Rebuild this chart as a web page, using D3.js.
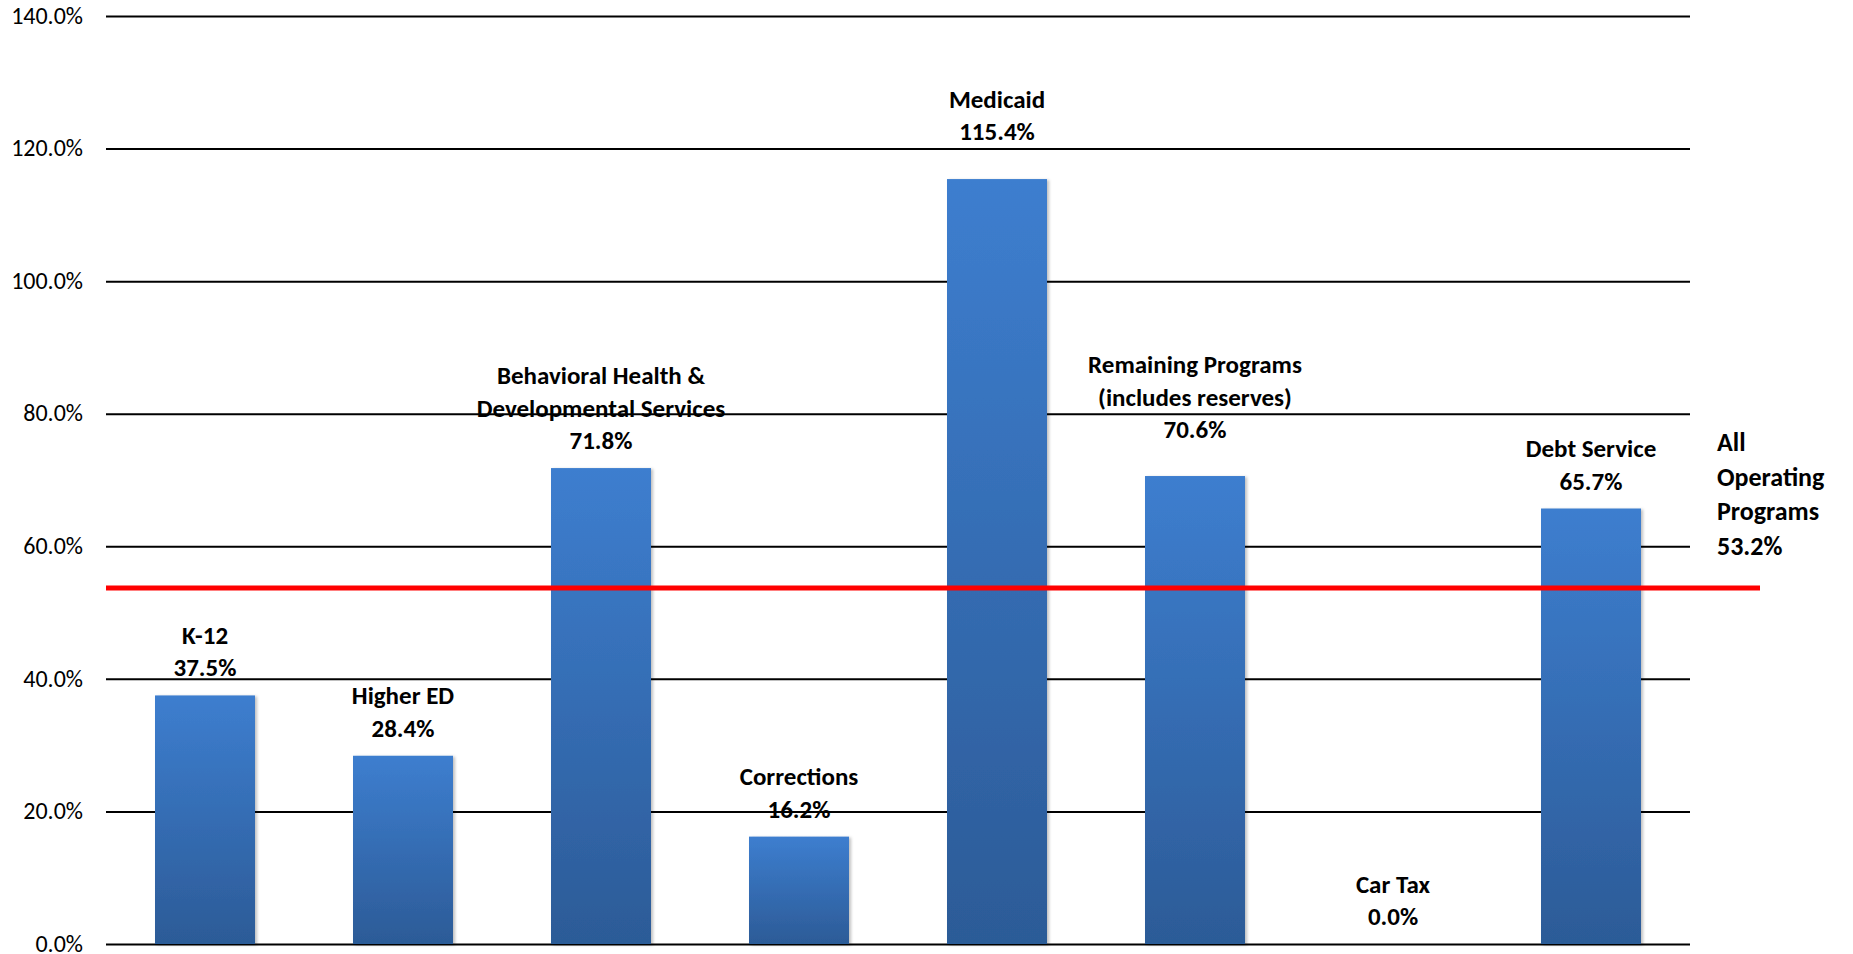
<!DOCTYPE html>
<html>
<head>
<meta charset="utf-8">
<script src="https://cdn.jsdelivr.net/npm/d3@7"></script>
<style>
  html, body { margin: 0; padding: 0; background: #fff; }
  #chart { width: 1853px; height: 954px; }
  text { font-family: Carlito, Lato, "Open Sans", sans-serif; fill: #000; }
</style>
</head>
<body>
<div id="chart"></div>
<script>
// ---- data ----
const categories = ['K-12', 'Higher ED', 'Behavioral Health & Developmental Services', 'Corrections',
  'Medicaid', 'Remaining Programs (includes reserves)', 'Car Tax', 'Debt Service'];
const labelLines = [['K-12'], ['Higher ED'], ['Behavioral Health &', 'Developmental Services'], ['Corrections'],
  ['Medicaid'], ['Remaining Programs', '(includes reserves)'], ['Car Tax'], ['Debt Service']];
const values = [37.5, 28.4, 71.8, 16.2, 115.4, 70.6, 0.0, 65.7];
const allOperating = 53.2;
const allOperatingLabel = ['All', 'Operating', 'Programs', '53.2%'];
const yTicks = [0, 20, 40, 60, 80, 100, 120, 140];

(function () {
  const W = 1853, H = 954;
  const plot = { left: 106, right: 1690, top: 16, bottom: 944 };

  // labels that sit higher above their bar than the rest
  const extraLift = { 'Medicaid': 20, 'Remaining Programs (includes reserves)': 19 };

  const svg = d3.select('#chart').append('svg')
    .attr('width', W).attr('height', H);

  const defs = svg.append('defs');
  const grad = defs.append('linearGradient').attr('id', 'barGrad')
    .attr('x1', 0).attr('y1', 0).attr('x2', 0).attr('y2', 1);
  grad.append('stop').attr('offset', '0%').attr('stop-color', '#3d7ecf');
  grad.append('stop').attr('offset', '100%').attr('stop-color', '#2c5b97');

  const shadow = defs.append('filter').attr('id', 'shadow')
    .attr('x', '-10%').attr('y', '-5%').attr('width', '125%').attr('height', '110%');
  shadow.append('feDropShadow').attr('dx', 2).attr('dy', 1).attr('stdDeviation', 1.5)
    .attr('flood-color', '#000').attr('flood-opacity', 0.25);

  const x = d3.scaleBand().domain(categories).range([plot.left, plot.right]).paddingInner(0.495).paddingOuter(0.2475);
  const y = d3.scaleLinear().domain([0, 140]).range([plot.bottom, plot.top]);

  // gridlines + tick labels
  const yAxis = svg.append('g').attr('transform', `translate(${plot.left},0)`)
    .call(d3.axisLeft(y).tickValues(yTicks).tickSize(-(plot.right - plot.left)).tickPadding(23)
      .tickFormat(d => d.toFixed(1) + '%'));
  yAxis.select('.domain').remove();
  yAxis.selectAll('line').attr('stroke', '#000').attr('stroke-width', 2);
  yAxis.selectAll('text').attr('font-size', '24px').attr('fill', '#000').attr('dy', '0.3em')
    .style('font-family', 'Carlito, Lato, "Open Sans", sans-serif');

  // bars
  svg.append('g').selectAll('rect').data(values).join('rect')
    .attr('x', (d, i) => x(categories[i]))
    .attr('width', x.bandwidth())
    .attr('y', d => y(d))
    .attr('height', d => y(0) - y(d))
    .attr('fill', 'url(#barGrad)')
    .attr('filter', 'url(#shadow)');

  // bar labels: name line(s) then value, stacked above bar
  const lineGap = 32.5;
  const lab = svg.append('g').attr('font-weight', 'bold').attr('font-size', '25px').attr('text-anchor', 'middle');
  values.forEach((v, i) => {
    const cx = x(categories[i]) + x.bandwidth() / 2;
    const base = y(v) - 19 - (extraLift[categories[i]] || 0);
    const lines = labelLines[i].concat([v.toFixed(1) + '%']);
    lines.forEach((t, j) => {
      lab.append('text').attr('x', cx).attr('y', base - (lines.length - 1 - j) * lineGap).text(t);
    });
  });

  // all operating programs reference line
  const ry = Math.round(y(allOperating) - 3);
  svg.append('line')
    .attr('x1', plot.left).attr('x2', 1760)
    .attr('y1', ry).attr('y2', ry)
    .attr('stroke', '#ff0000').attr('stroke-width', 5);

  const side = svg.append('g').attr('font-weight', 'bold').attr('font-size', '26px');
  allOperatingLabel.forEach((t, j) => {
    side.append('text').attr('x', 1717).attr('y', 451 + j * 34.5).text(t);
  });
})();
</script>
</body>
</html>
